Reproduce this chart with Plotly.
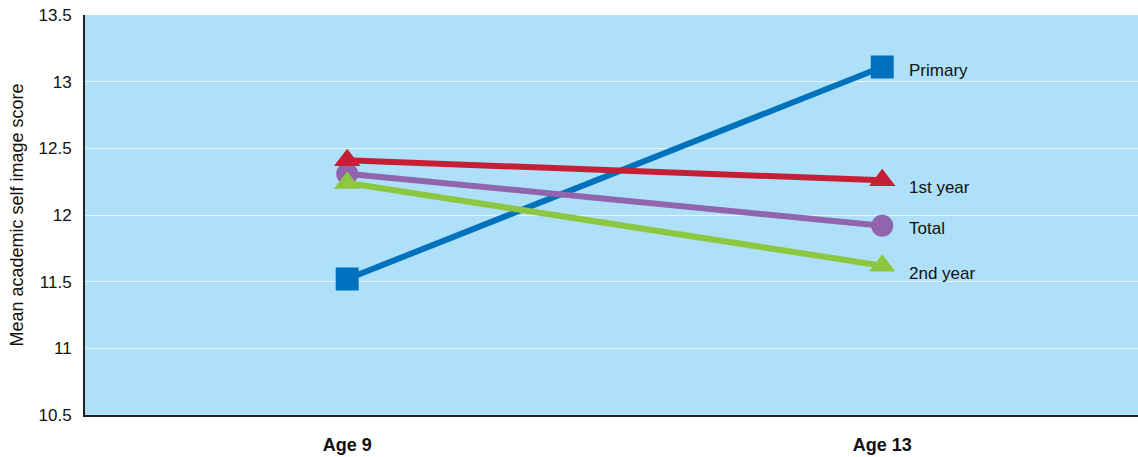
import plotly.graph_objects as go

categories = ["Age 9", "Age 13"]
series_names = ["Primary", "1st year", "Total", "2nd year"]
primary = [11.52, 13.11]
first_year = [12.41, 12.26]
total = [12.31, 11.92]
second_year = [12.24, 11.62]
y_ticks = [10.5, 11, 11.5, 12, 12.5, 13, 13.5]
y_tick_text = ["10.5", "11", "11.5", "12", "12.5", "13", "13.5"]

x_pos = [0, 1]

styles = {
    "Primary": dict(color="#0071bc", symbol="square", size=23),
    "1st year": dict(color="#c41f35", symbol="triangle-up", size=23),
    "Total": dict(color="#9065ad", symbol="circle", size=22),
    "2nd year": dict(color="#8dc63f", symbol="triangle-up", size=23),
}
values = {"Primary": primary, "1st year": first_year, "Total": total, "2nd year": second_year}
order = ["Primary", "Total", "2nd year", "1st year"]
label_shift = {"Primary": -3, "1st year": -7, "Total": -3, "2nd year": -8}

fig = go.Figure()
for name in order:
    s = styles[name]
    fig.add_trace(go.Scatter(
        x=x_pos, y=values[name], mode="lines+markers", name=name,
        line=dict(color=s["color"], width=6),
        marker=dict(color=s["color"], symbol=s["symbol"], size=s["size"], line=dict(width=0)),
        showlegend=False, cliponaxis=False, hoverinfo="skip",
    ))

for name in series_names:
    fig.add_annotation(
        x=x_pos[1], y=values[name][1], xref="x", yref="y",
        text=name, showarrow=False, xanchor="left", yanchor="middle",
        xshift=25, yshift=label_shift[name],
        font=dict(family="Liberation Sans, Arial, sans-serif", size=17, color="#111111"),
    )

fig.update_layout(
    width=1138, height=457,
    margin=dict(l=85, r=0, t=15, b=42, autoexpand=False),
    paper_bgcolor="white",
    plot_bgcolor="#aee0f9",
    xaxis=dict(
        range=[-0.49, 1.478], tickvals=x_pos, ticktext=categories,
        showgrid=False, zeroline=False, showline=True, linecolor="#222222", linewidth=2,
        ticks="", ticklabelstandoff=12, automargin=False,
        tickfont=dict(family="Liberation Sans, Arial, sans-serif", size=18, color="#111111", weight="bold"),
    ),
    yaxis=dict(
        range=[10.5, 13.5], tickvals=y_ticks, ticktext=y_tick_text,
        showgrid=True, gridcolor="rgba(255,255,255,0.7)", gridwidth=1,
        zeroline=False, showline=True, linecolor="#222222", linewidth=2,
        ticks="", ticklabelstandoff=8, automargin=False,
        tickfont=dict(family="Liberation Sans, Arial, sans-serif", size=17, color="#111111"),
        title=dict(text="Mean academic self image score", standoff=10,
                   font=dict(family="Liberation Sans, Arial, sans-serif", size=18, color="#111111")),
    ),
)

fig.write_html("out.html", config={"displayModeBar": False},
               post_script="document.body.style.margin='0';")
